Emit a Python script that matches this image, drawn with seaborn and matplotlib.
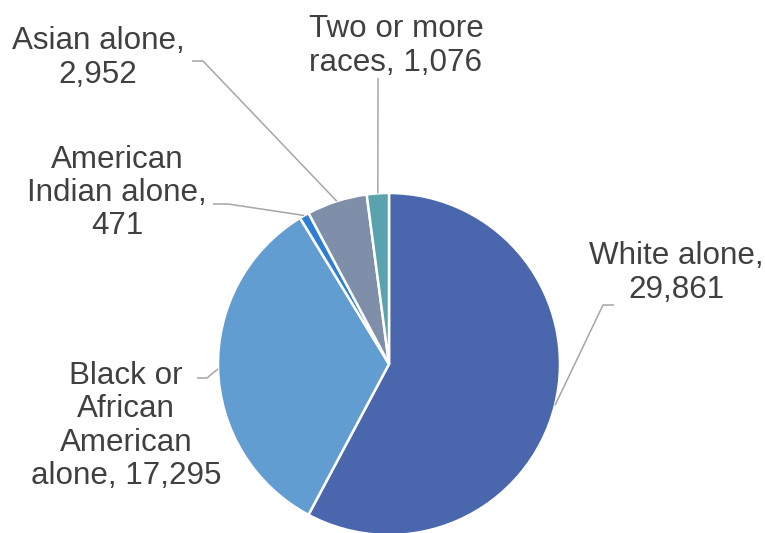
import numpy as np
import matplotlib.pyplot as plt
import seaborn as sns

# population by race (thousands)
labels = ['White alone', 'Black or African American alone', 'American Indian alone',
          'Asian alone', 'Two or more races']
values = [29861, 17295, 471, 2952, 1076]
colors = ['#4a66ac', '#629dd1', '#2e7fd4', '#7f8fa9', '#5aa2ae']

# label text as shown on the chart
label_text = ['White alone,\n29,861',
              'Black or\nAfrican\nAmerican\nalone, 17,295',
              'American\nIndian alone,\n471',
              'Asian alone,\n2,952',
              'Two or more\nraces, 1,076']

sns.set_style('white')
plt.rcParams['font.family'] = ['Liberation Sans', 'DejaVu Sans']

W, H = 765, 533
fig = plt.figure(figsize=(W / 100, H / 100), dpi=100)
ax = fig.add_axes([0, 0, 1, 1])

cx, cy, r = 389, H - 364, 171
wedges, _ = ax.pie(values, colors=colors, startangle=90, counterclock=False,
                   center=(cx, cy), radius=r, frame=True,
                   wedgeprops=dict(edgecolor='white', linewidth=1.8))
ax.set_xlim(0, W)
ax.set_ylim(0, H)
ax.set_aspect('equal')
ax.axis('off')

# label placement (pixel coords from top-left): text centre, elbow points
text_pos = [(676, 273), (126, 426), (117, 193), (98, 58), (396, 46)]
elbows = [[(614, 305), (603, 305)],
          [(197, 378), (207, 378)],
          [(213, 204), (228, 204)],
          [(192, 61), (203, 61)],
          [(378, 78)]]

for w, txt, tp, el in zip(wedges, label_text, text_pos, elbows):
    ang = np.deg2rad((w.theta1 + w.theta2) / 2)
    ax_, ay_ = cx + r * np.cos(ang), cy + r * np.sin(ang)
    xs = [p[0] for p in el] + [ax_]
    ys = [H - p[1] for p in el] + [ay_]
    ax.plot(xs, ys, color='#a6a6a6', lw=1.1, solid_capstyle='butt')
    ax.text(tp[0], H - tp[1], txt, ha='center', va='center', multialignment='center',
            fontsize=22.6, color='#404040', linespacing=1.15)

fig.savefig('out.png', dpi=100)
